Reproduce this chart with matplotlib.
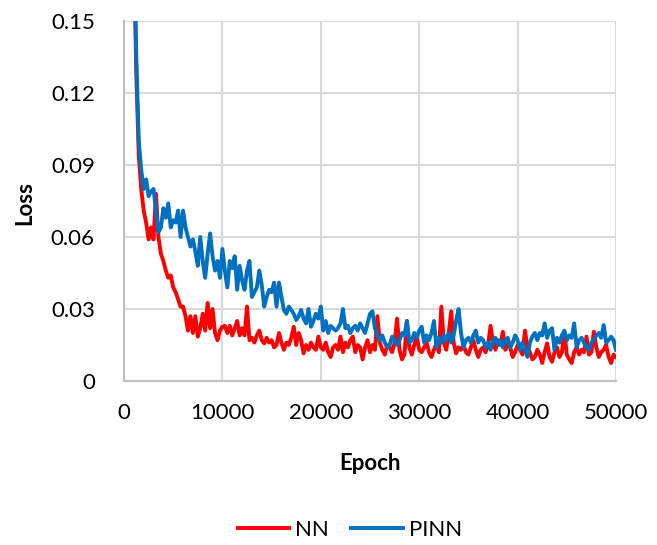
import numpy as np
import matplotlib
matplotlib.use("Agg")
from matplotlib import pyplot as plt

plt.rcParams['font.family'] = ['Lato', 'DejaVu Sans']

#Epochs (one value every 250 epochs)
epochs = np.arange(1000, 50001, 250)

#NN loss
loss_nn = [
    0.180, 0.128, 0.094, 0.080, 0.071, 0.066, 0.059, 0.064, 0.059, 0.078,
    0.060, 0.053, 0.050, 0.046, 0.043, 0.044, 0.039, 0.037, 0.034, 0.031,
    0.031, 0.027, 0.021, 0.027, 0.020, 0.027, 0.0185, 0.022, 0.028, 0.021,
    0.0325, 0.022, 0.030, 0.020, 0.017, 0.021, 0.0226, 0.023, 0.020, 0.023,
    0.019, 0.022, 0.025, 0.019, 0.022, 0.019, 0.031, 0.017, 0.018, 0.016,
    0.019, 0.021, 0.017, 0.0157, 0.018, 0.016, 0.017, 0.014, 0.015, 0.020,
    0.016, 0.013, 0.016, 0.015, 0.018, 0.0226, 0.015, 0.020, 0.017, 0.0115,
    0.015, 0.013, 0.016, 0.014, 0.013, 0.0185, 0.014, 0.013, 0.016, 0.012,
    0.010, 0.014, 0.015, 0.013, 0.0185, 0.012, 0.016, 0.014, 0.017, 0.0185,
    0.012, 0.015, 0.014, 0.009, 0.014, 0.017, 0.012, 0.015, 0.013, 0.027,
    0.016, 0.013, 0.011, 0.015, 0.014, 0.012, 0.016, 0.026, 0.013, 0.009,
    0.011, 0.025, 0.014, 0.011, 0.015, 0.0185, 0.013, 0.012, 0.014, 0.016,
    0.012, 0.010, 0.013, 0.0157, 0.012, 0.031, 0.016, 0.013, 0.020, 0.029,
    0.016, 0.0115, 0.014, 0.013, 0.015, 0.012, 0.011, 0.014, 0.017, 0.013,
    0.010, 0.013, 0.014, 0.012, 0.015, 0.023, 0.016, 0.013, 0.017, 0.015,
    0.0205, 0.013, 0.016, 0.014, 0.010, 0.012, 0.015, 0.013, 0.011, 0.021,
    0.014, 0.012, 0.009, 0.010, 0.013, 0.011, 0.0075, 0.012, 0.0157, 0.010,
    0.008, 0.012, 0.014, 0.010, 0.012, 0.0205, 0.011, 0.009, 0.0075, 0.012,
    0.014, 0.011, 0.013, 0.012, 0.0185, 0.011, 0.012, 0.0205, 0.014, 0.010,
    0.012, 0.013, 0.015, 0.010, 0.0075, 0.011, 0.010]

#PINN loss
loss_pinn = [
    0.190, 0.135, 0.100, 0.088, 0.080, 0.084, 0.077, 0.079, 0.080, 0.071,
    0.062, 0.064, 0.072, 0.068, 0.074, 0.064, 0.067, 0.066, 0.071, 0.060,
    0.071, 0.064, 0.060, 0.056, 0.059, 0.054, 0.048, 0.060, 0.050, 0.043,
    0.053, 0.0615, 0.052, 0.046, 0.050, 0.043, 0.055, 0.046, 0.039, 0.050,
    0.047, 0.052, 0.038, 0.048, 0.042, 0.038, 0.046, 0.050, 0.035, 0.037,
    0.039, 0.046, 0.040, 0.031, 0.035, 0.038, 0.037, 0.041, 0.031, 0.041,
    0.035, 0.0296, 0.028, 0.031, 0.0296, 0.028, 0.0254, 0.027, 0.0296, 0.026,
    0.024, 0.030, 0.0226, 0.025, 0.028, 0.026, 0.031, 0.021, 0.025, 0.020,
    0.023, 0.022, 0.021, 0.022, 0.024, 0.030, 0.022, 0.023, 0.020, 0.022,
    0.023, 0.021, 0.024, 0.022, 0.020, 0.024, 0.028, 0.029, 0.022, 0.019,
    0.017, 0.019, 0.016, 0.014, 0.015, 0.0185, 0.017, 0.015, 0.017, 0.020,
    0.019, 0.025, 0.016, 0.017, 0.020, 0.018, 0.021, 0.0226, 0.016, 0.019,
    0.017, 0.020, 0.025, 0.014, 0.018, 0.016, 0.019, 0.017, 0.020, 0.016,
    0.019, 0.025, 0.030, 0.020, 0.014, 0.017, 0.018, 0.016, 0.019, 0.021,
    0.016, 0.018, 0.017, 0.014, 0.016, 0.013, 0.017, 0.018, 0.015, 0.017,
    0.014, 0.017, 0.018, 0.014, 0.016, 0.019, 0.017, 0.013, 0.016, 0.013,
    0.010, 0.016, 0.0185, 0.020, 0.017, 0.020, 0.019, 0.024, 0.018, 0.021,
    0.022, 0.013, 0.018, 0.016, 0.019, 0.021, 0.017, 0.019, 0.018, 0.024,
    0.014, 0.017, 0.018, 0.016, 0.014, 0.013, 0.016, 0.017, 0.019, 0.020,
    0.018, 0.0233, 0.016, 0.017, 0.0185, 0.017, 0.013]

x_ticks = [0, 10000, 20000, 30000, 40000, 50000]
y_ticks = [0, 0.03, 0.06, 0.09, 0.12, 0.15]
y_labels = ['0', '0.03', '0.06', '0.09', '0.12', '0.15']

#%%
fig = plt.figure(figsize=(6.57, 5.45), dpi=100)
ax = fig.add_axes([124/657, 1-381/545, 492/657, 360/545])

ax.plot(epochs, loss_nn, c='#FF0000', lw=2.8, label='NN', solid_joinstyle='round')
ax.plot(epochs, loss_pinn, c='#0070C0', lw=2.8, label='PINN', solid_joinstyle='round')

#Formatting
ax.set_xlim(0, 50000)
ax.set_ylim(0, 0.15)
ax.set_xticks(x_ticks)
ax.set_xticklabels([str(t) for t in x_ticks])
ax.set_yticks(y_ticks)
ax.set_yticklabels(y_labels)
ax.tick_params(length=0, labelsize=16, colors='#000000')
ax.tick_params(axis='x', pad=16)
ax.tick_params(axis='y', pad=21)
ax.grid(True, color='#D9D9D9', lw=1.5)
ax.set_axisbelow(True)
for side in ['top', 'right']:
    ax.spines[side].set_visible(False)
for side in ['left', 'bottom']:
    ax.spines[side].set_color('#BFBFBF')
    ax.spines[side].set_linewidth(1.5)

ax.set_xlabel('Epoch', fontsize=16, fontweight='bold', va='center')
ax.set_ylabel('Loss', fontsize=16, fontweight='bold', va='center')
ax.xaxis.set_label_coords(0.5, (381-463)/360)
ax.yaxis.set_label_coords((25-124)/492, (381-203)/360)

fig.legend(loc='center', bbox_to_anchor=(350/657, 1-530/545), ncol=2, frameon=False,
           fontsize=16, handlelength=2.3, columnspacing=1.0, handletextpad=0.3)

plt.savefig("out.png")
